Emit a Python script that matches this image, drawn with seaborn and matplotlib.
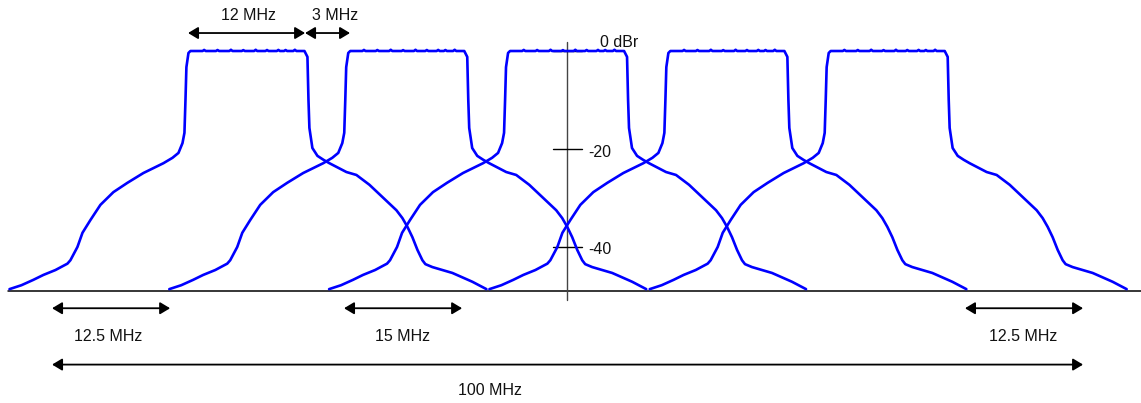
import numpy as np
import pandas as pd
import matplotlib
matplotlib.use("Agg")
import matplotlib.pyplot as plt
import seaborn as sns

# ---- data ----
channel_names = ["Ch1", "Ch2", "Ch3", "Ch4", "Ch5"]
channel_centers = [-31.0, -15.5, 0.0, 15.55, 31.1]  # MHz

# one channel mask profile: offset from channel centre (MHz), level (dBr)
skirt_left_offset = [-23.08, -21.92, -20.76, -19.79, -18.62, -17.46, -17.17, -16.49,
                     -16.00, -15.23, -14.26, -13.00, -11.64, -10.09, -8.15, -7.27,
                     -6.69, -6.30, -6.11, -6.01, -5.92, -5.72, -5.53]
skirt_left_level = [-48.6, -47.8, -46.7, -45.7, -44.7, -43.4, -42.7, -40.0,
                    -37.1, -34.5, -31.4, -28.8, -26.9, -24.9, -22.9, -21.8,
                    -20.8, -18.8, -16.7, -10.0, -3.3, -0.4, 0.0]
top_offset = [-4.35, -4.2, -4.05, -3.05, -2.9, -2.75, -1.75, -1.6, -1.45,
              -0.55, -0.4, -0.25, 0.65, 0.8, 0.95, 1.75, 1.9, 2.05,
              2.85, 3.0, 3.15, 3.55, 3.7, 3.85, 4.45, 4.6, 4.75]
top_level = [0.0, 0.22, 0.0, 0.0, 0.2, 0.0, 0.0, 0.25, 0.0,
             0.0, 0.18, 0.0, 0.0, 0.25, 0.0, 0.0, 0.2, 0.0,
             0.0, 0.22, 0.0, 0.0, 0.2, 0.0, 0.0, 0.25, 0.0]
skirt_right_offset = [5.53, 5.82, 5.92, 6.01, 6.30, 6.79, 7.37, 7.95, 9.60, 10.57,
                      11.83, 13.09, 14.45, 15.03, 15.52, 16.00, 16.49, 16.97, 17.26,
                      17.94, 19.88, 21.82, 23.18]
skirt_right_level = [0.0, -1.2, -10.0, -15.7, -19.8, -21.4, -22.2, -22.9, -24.7, -25.3,
                     -27.3, -29.8, -32.5, -34.1, -35.9, -38.0, -40.6, -42.7, -43.5,
                     -44.1, -45.3, -47.1, -48.6]

tick_levels = [0, -20, -40]
tick_labels = ["0 dBr", "-20", "-40"]

# dimension arrows
dim_labels = ["12 MHz", "3 MHz", "12.5 MHz", "15 MHz", "12.5 MHz", "100 MHz"]
dim_x0 = [-36.76, -25.41, -49.95, -21.63, 38.6, -49.95]
dim_x1 = [-25.41, -21.05, -38.5, -10.18, 50.05, 50.05]
dim_y = [3.67, 3.67, -52.5, -52.5, -52.5, -64.0]
dim_label_x = [-30.9, -22.5, -44.5, -16.0, 44.2, -7.5]
dim_label_y = [7.2, 7.2, -58.2, -58.2, -58.2, -69.2]

# ---- build long table ----
profile_offset = skirt_left_offset + top_offset + skirt_right_offset
profile_level = skirt_left_level + top_level + skirt_right_level
rows = []
for name, c in zip(channel_names, channel_centers):
    for i, (o, lv) in enumerate(zip(profile_offset, profile_level)):
        rows.append({"channel": name, "freq": c + o, "level": lv, "idx": i})
df = pd.DataFrame(rows)

sns.set_theme(style="white")
plt.rcParams["font.family"] = ["Liberation Sans", "DejaVu Sans"]

fig = plt.figure(figsize=(11.41, 4.03), dpi=100)
ax = fig.add_axes([0, 0, 1, 1])
ax.set_xlim(-55.0, 55.67)
ax.set_ylim(-71.84, 10.41)
ax.set_axis_off()

sns.lineplot(data=df, x="freq", y="level", units="channel", estimator=None,
             sort=False, color="#0000ff", lw=1.9, ax=ax, legend=False)

# baseline and vertical axis
ax.plot([-54.2, 55.67], [-48.98, -48.98], color="black", lw=1.1, zorder=1)
ax.plot([0, 0], [1.84, -50.8], color="#444444", lw=1.0, zorder=1)
for lv in tick_levels:
    ax.plot([-1.36, 1.45], [lv, lv], color="black", lw=1.0, zorder=1)
ax.text(3.2, 1.7, tick_labels[0], fontsize=11.5, ha="left", va="center", color="#111111")
ax.text(2.04, -20.8, tick_labels[1], fontsize=11.5, ha="left", va="center", color="#111111")
ax.text(2.04, -40.6, tick_labels[2], fontsize=11.5, ha="left", va="center", color="#111111")

for x0, x1, y, lab, lx, ly in zip(dim_x0, dim_x1, dim_y, dim_labels, dim_label_x, dim_label_y):
    ax.annotate("", xy=(x1, y), xytext=(x0, y),
                arrowprops=dict(arrowstyle="<|-|>,head_length=0.5,head_width=0.3",
                                color="black", lw=1.3, shrinkA=0, shrinkB=0,
                                mutation_scale=12))
    ax.text(lx, ly, lab, fontsize=11.5, ha="center", va="center", color="#111111")

fig.savefig("out.png", dpi=100)
